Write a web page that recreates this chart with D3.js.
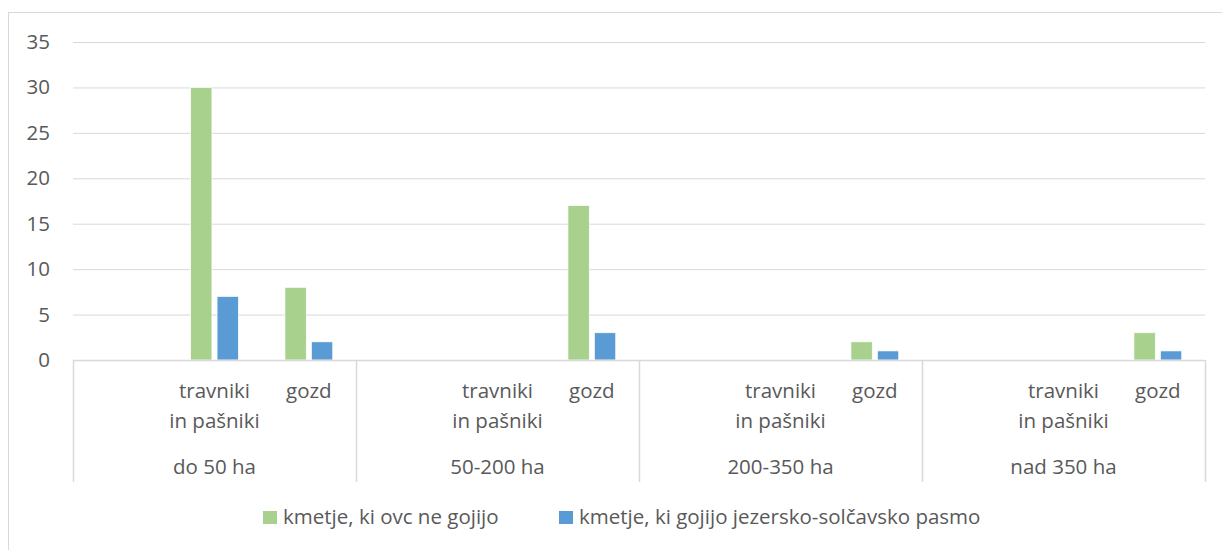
<!DOCTYPE html>
<html>
<head>
<meta charset="utf-8">
<script src="https://cdn.jsdelivr.net/npm/d3@7"></script>
<style>
  body { margin: 0; background: #fff; }
  svg text { font-family: "Open Sans", "Noto Sans", sans-serif; fill: #595959; }
</style>
</head>
<body>
<div id="chart"></div>
<script>
// outer groups (farm size) and the inner land-use categories shown under each
const groups = ["do 50 ha", "50-200 ha", "200-350 ha", "nad 350 ha"];
const subcats = [[], ["travniki", "in pašniki"], ["gozd"]];   // first slot is empty in every group
const seriesNames = ["kmetje, ki ovc ne gojijo", "kmetje, ki gojijo jezersko-solčavsko pasmo"];
const seriesColors = ["#a9d18e", "#5b9bd5"];
// values per slot: 4 groups x 3 slots
const noSheep   = [null, 30, 8,  null, 0, 17,  null, 0, 2,  null, 0, 3];
const withSheep = [null, 7, 2,   null, 0, 3,   null, 0, 1,  null, 0, 1];
const yTicks = [0, 5, 10, 15, 20, 25, 30, 35];

const W = 1222, H = 550;
const plot = { left: 73, right: 1205, top: 42, bottom: 360 };
const FS = 20.5;

const svg = d3.select("#chart").append("svg")
    .attr("width", W).attr("height", H);

// chart frame (runs off the right and bottom of the picture)
svg.append("rect")
    .attr("x", 8.5).attr("y", 12.5).attr("width", W).attr("height", H)
    .attr("fill", "none").attr("stroke", "#d9d9d9");

const slots = d3.range(groups.length * 3);
const x = d3.scaleBand().domain(slots).range([plot.left, plot.right]);
const y = d3.scaleLinear().domain([0, 35]).range([plot.bottom, plot.top]);

// gridlines + y labels
svg.append("g").selectAll("line").data(yTicks.filter(d => d > 0)).join("line")
    .attr("x1", plot.left).attr("x2", plot.right)
    .attr("y1", d => y(d) + 0.5).attr("y2", d => y(d) + 0.5)
    .attr("stroke", "#d9d9d9");

svg.append("g").selectAll("text").data(yTicks).join("text")
    .attr("x", 50).attr("y", d => y(d) + 7)
    .attr("text-anchor", "end").attr("font-size", FS)
    .text(d => d);

// bars
const values = [noSheep, withSheep];
const inner = d3.scaleBand().domain([0, 1]).range([-23.9, 23.9]).paddingInner(0.193);
values.forEach((vals, s) => {
  svg.append("g").selectAll("rect")
    .data(slots.filter(i => vals[i] != null))
    .join("rect")
      .attr("x", i => x(i) + x.bandwidth() / 2 + inner(s))
      .attr("width", inner.bandwidth())
      .attr("y", i => y(vals[i]))
      .attr("height", i => y(0) - y(vals[i]))
      .attr("fill", seriesColors[s])
      .attr("stroke", "#fff").attr("stroke-width", 0.7);
});

// category axis: baseline + group separators
svg.append("line")
    .attr("x1", plot.left).attr("x2", plot.right)
    .attr("y1", plot.bottom + 0.5).attr("y2", plot.bottom + 0.5)
    .attr("stroke", "#d9d9d9").attr("stroke-width", 1.5);

svg.append("g").selectAll("line").data(d3.range(groups.length + 1)).join("line")
    .attr("x1", g => (g < groups.length ? x(g * 3) : plot.right) + 0.5)
    .attr("x2", g => (g < groups.length ? x(g * 3) : plot.right) + 0.5)
    .attr("y1", plot.bottom).attr("y2", 482)
    .attr("stroke", "#d9d9d9").attr("stroke-width", 1.5);

// inner labels (multi-line)
const subLabels = svg.append("g").selectAll("text").data(slots).join("text")
    .attr("text-anchor", "middle").attr("font-size", FS)
    .attr("transform", i => `translate(${x(i) + x.bandwidth() / 2},398)`);
subLabels.selectAll("tspan").data(i => subcats[i % 3]).join("tspan")
    .attr("x", 0).attr("dy", (d, k) => k === 0 ? 0 : 30)
    .text(d => d);

// outer group labels
svg.append("g").selectAll("text").data(groups).join("text")
    .attr("x", (d, g) => x(g * 3) + x.bandwidth() * 1.5)
    .attr("y", 474).attr("text-anchor", "middle").attr("font-size", FS)
    .text(d => d);

// legend
const legendX = [263, 559];
const legend = svg.append("g").selectAll("g").data(seriesNames).join("g")
    .attr("transform", (d, k) => `translate(${legendX[k]},511)`);
legend.append("rect").attr("width", 14).attr("height", 13)
    .attr("fill", (d, k) => seriesColors[k]);
legend.append("text").attr("x", 20).attr("y", 13).attr("font-size", FS)
    .text(d => d);
</script>
</body>
</html>
